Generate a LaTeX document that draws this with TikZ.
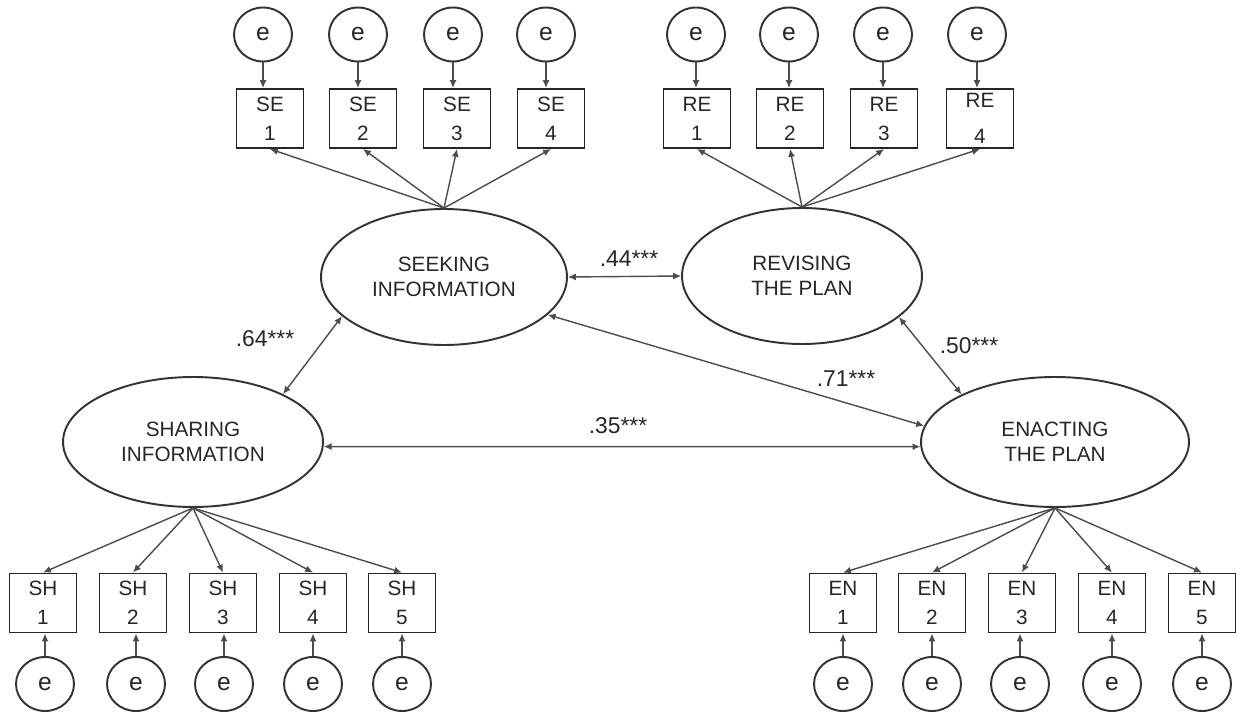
\documentclass[tikz,border=0pt]{standalone}
\usepackage{fontspec}
\setmainfont{Liberation Sans}
\usetikzlibrary{shapes.geometric,arrows.meta}

\begin{document}
\begin{tikzpicture}[x=0.02cm,y=-0.02cm,
  latent/.style={ellipse,draw=black!80,line width=1.1pt,inner sep=0pt,align=center,
    font=\fontsize{11.8}{14.2}\selectfont,text=black!85},
  errterm/.style={ellipse,draw=black!80,line width=1.1pt,minimum width=1.16cm,
    minimum height=1.08cm,inner sep=0pt,font=\fontsize{14}{16}\selectfont,text=black!85},
  indicator/.style={rectangle,draw=black!85,line width=1.1pt,minimum width=1.34cm,
    minimum height=1.18cm,inner sep=0pt,align=center,
    font=\fontsize{11.8}{16.5}\selectfont,text=black!85},
  loading/.style={draw=black!70,line width=0.8pt,-{Latex[length=4.5pt,width=4pt]}},
  corr/.style={draw=black!70,line width=0.8pt,
    {Latex[length=4.5pt,width=4pt]}-{Latex[length=4.5pt,width=4pt]}},
  coef/.style={font=\fontsize{13}{15}\selectfont,inner sep=0pt,text=black!85}
]
\useasboundingbox (0,0) rectangle (1238,713);

% latent factors
\node[latent,minimum width=4.92cm,minimum height=2.72cm] (seek) at (444,277) {SEEKING\\INFORMATION};
\node[latent,minimum width=4.80cm,minimum height=2.72cm] (revise) at (802,276) {REVISING\\THE PLAN};
\node[latent,minimum width=5.20cm,minimum height=2.60cm] (share) at (193,442) {SHARING\\INFORMATION};
\node[latent,minimum width=5.36cm,minimum height=2.60cm] (enact) at (1055,442) {ENACTING\\THE PLAN};

% seeking information indicators
\foreach \i/\ex/\bx in {1/263/270, 2/358/363, 3/453/457, 4/546/551} {
  \node[indicator] (SE\i) at (\bx,118.5) {SE\\\i};
  \node[errterm] (eSE\i) at (\ex,34.5) {e};
  \draw[loading] (eSE\i) -- (eSE\i |- SE\i.north);
  \draw[loading] (seek.north) -- (SE\i.south);
}

% revising the plan indicators
\foreach \i/\ex/\bx in {1/696/697, 2/789/790, 3/883/884} {
  \node[indicator] (RE\i) at (\bx,118.5) {RE\\\i};
}
\node[indicator] (RE4) at (980,118.5) {\raisebox{2pt}{RE}\\[2pt]4};
\foreach \i/\ex in {1/696, 2/789, 3/883, 4/977} {
  \node[errterm] (eRE\i) at (\ex,34.5) {e};
  \draw[loading] (eRE\i) -- (eRE\i |- RE\i.north);
  \draw[loading] (revise.north) -- (RE\i.south);
}

% sharing information indicators
\foreach \i/\ex/\bx in {1/45/43, 2/136/133, 3/224/223, 4/313/313, 5/402/402} {
  \node[indicator] (SH\i) at (\bx,603) {SH\\\i};
  \node[errterm] (eSH\i) at (\ex,684) {e};
  \draw[loading] (eSH\i) -- (eSH\i |- SH\i.south);
  \draw[loading] (share.south) -- (SH\i.north);
}

% enacting the plan indicators
\foreach \i/\ex/\bx in {1/843/843, 2/932/932, 3/1020/1022, 4/1112/1112, 5/1202/1202} {
  \node[indicator] (EN\i) at (\bx,603) {EN\\\i};
  \node[errterm] (eEN\i) at (\ex,684) {e};
  \draw[loading] (eEN\i) -- (eEN\i |- EN\i.south);
  \draw[loading] (enact.south) -- (EN\i.north);
}

% factor correlations
\draw[corr] (seek.east) -- (revise.west);
\draw[corr] (share.28) -- (seek.201);
\draw[corr] (seek.340) -- (enact.173);
\draw[corr] (revise.337) -- (enact.153);
\draw[corr] (share.-2) -- (enact.182);

\node[coef] (r44) at (629,259) {.44***};
\node[coef] (r64) at (265,339) {.64***};
\node[coef] (r50) at (969,346) {.50***};
\node[coef] (r71) at (846,379) {.71***};
\node[coef] (r35) at (618,426) {.35***};
\end{tikzpicture}
\end{document}
